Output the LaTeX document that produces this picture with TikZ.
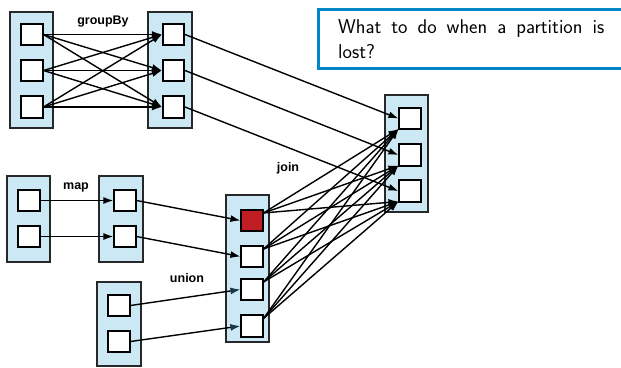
\documentclass[tikz,border=0pt]{standalone}
\usepackage{fontspec}
\newfontfamily\labelfont{Liberation Sans}
\usetikzlibrary{arrows.meta,calc}
\definecolor{partfill}{RGB}{204,232,244}
\definecolor{partedge}{RGB}{40,40,40}
\definecolor{lostred}{RGB}{193,29,36}
\definecolor{notebox}{RGB}{0,133,200}
\definecolor{tipblue}{RGB}{25,55,75}
\begin{document}
\begin{tikzpicture}[x=1pt,y=-1pt,
  rdd/.style={draw=partedge, fill=partfill, line width=1.5pt},
  cell/.style={draw=black, fill=white, line width=1.6pt, minimum size=21.5pt, inner sep=0pt},
  lostcell/.style={cell, fill=lostred},
  dep/.style={line width=1.4pt, -{Latex[length=10pt,width=7pt]}},
  udep/.style={line width=1.4pt, -{Latex[length=10pt,width=7pt,color=tipblue]}},
  oplabel/.style={font=\labelfont\bfseries\fontsize{12.5}{14}\selectfont, anchor=base, inner sep=0pt},
  notetext/.style={font=\sffamily\fontsize{20}{25}\selectfont, anchor=base west, inner sep=0pt}]
\useasboundingbox (0,0) rectangle (621,367);
\clip (0,0) rectangle (621,367);

% RDD containers
\path[rdd] (10,12) rectangle (53,128);
\path[rdd] (148,12) rectangle (192,128);
\path[rdd] (385,95) rectangle (428,212);
\path[rdd] (7,176) rectangle (50,262);
\path[rdd] (99,176) rectangle (143,262);
\path[rdd] (97,282) rectangle (141,366);
\path[rdd] (226,195) rectangle (269,342);

% partitions
\foreach \i/\y in {1/34.5,2/70.5,3/107}{
  \node[cell] (gl\i) at (32,\y) {};
  \node[cell] (gr\i) at (173.5,\y) {};
}
\foreach \i/\y in {1/118.5,2/155,3/191}
  \node[cell] (fn\i) at (410,\y) {};
\foreach \i/\y in {1/200.5,2/236.5}{
  \node[cell] (ml\i) at (29,\y) {};
  \node[cell] (mr\i) at (125,\y) {};
}
\foreach \i/\y in {1/305.5,2/341.5}
  \node[cell] (un\i) at (119,\y) {};
\node[lostcell] (jn1) at (252,220.5) {};
\foreach \i/\y in {2/256.5,3/289.5,4/326}
  \node[cell] (jn\i) at (252,\y) {};

% operation labels
\node[oplabel] (lgroup) at (103,24) {groupBy};
\node[oplabel] (lmap) at (76,189.5) {map};
\node[oplabel] (lunion) at (187,282) {union};
\node[oplabel] (ljoin) at (288,171) {join};

% groupBy: wide dependencies
\foreach \i in {1,2,3}
  \foreach \k in {1,2,3}
    \draw[dep] (gl\i.east) -- (gr\k.west);
\foreach \i in {1,2,3}
  \draw[dep] (gr\i.east) -- (fn\i.west);

% map: narrow dependencies
\foreach \i in {1,2}{
  \draw[dep] (ml\i.east) -- (mr\i.west);
  \draw[dep] (mr\i.east) -- (jn\i.west);
}

% union
\draw[udep] (un1.east) -- (jn3.west);
\draw[udep] (un2.east) -- (jn4.west);

% join: wide dependencies
\foreach \i in {1,2,3,4}
  \foreach \k in {1,2,3}
    \draw[dep] ($(jn\i.north east)+(0,4)$) -- ($(fn\k.south west)+(0,-1)$);

% note
\path[draw=notebox, fill=white, line width=3pt] (318.5,9.5) rectangle (640,68.5);
\node[notetext] (note1) at (338,33) {\makebox[266pt][s]{What to do when a partition is}};
\node[notetext] (note2) at (338,58) {lost?};
\end{tikzpicture}
\end{document}
